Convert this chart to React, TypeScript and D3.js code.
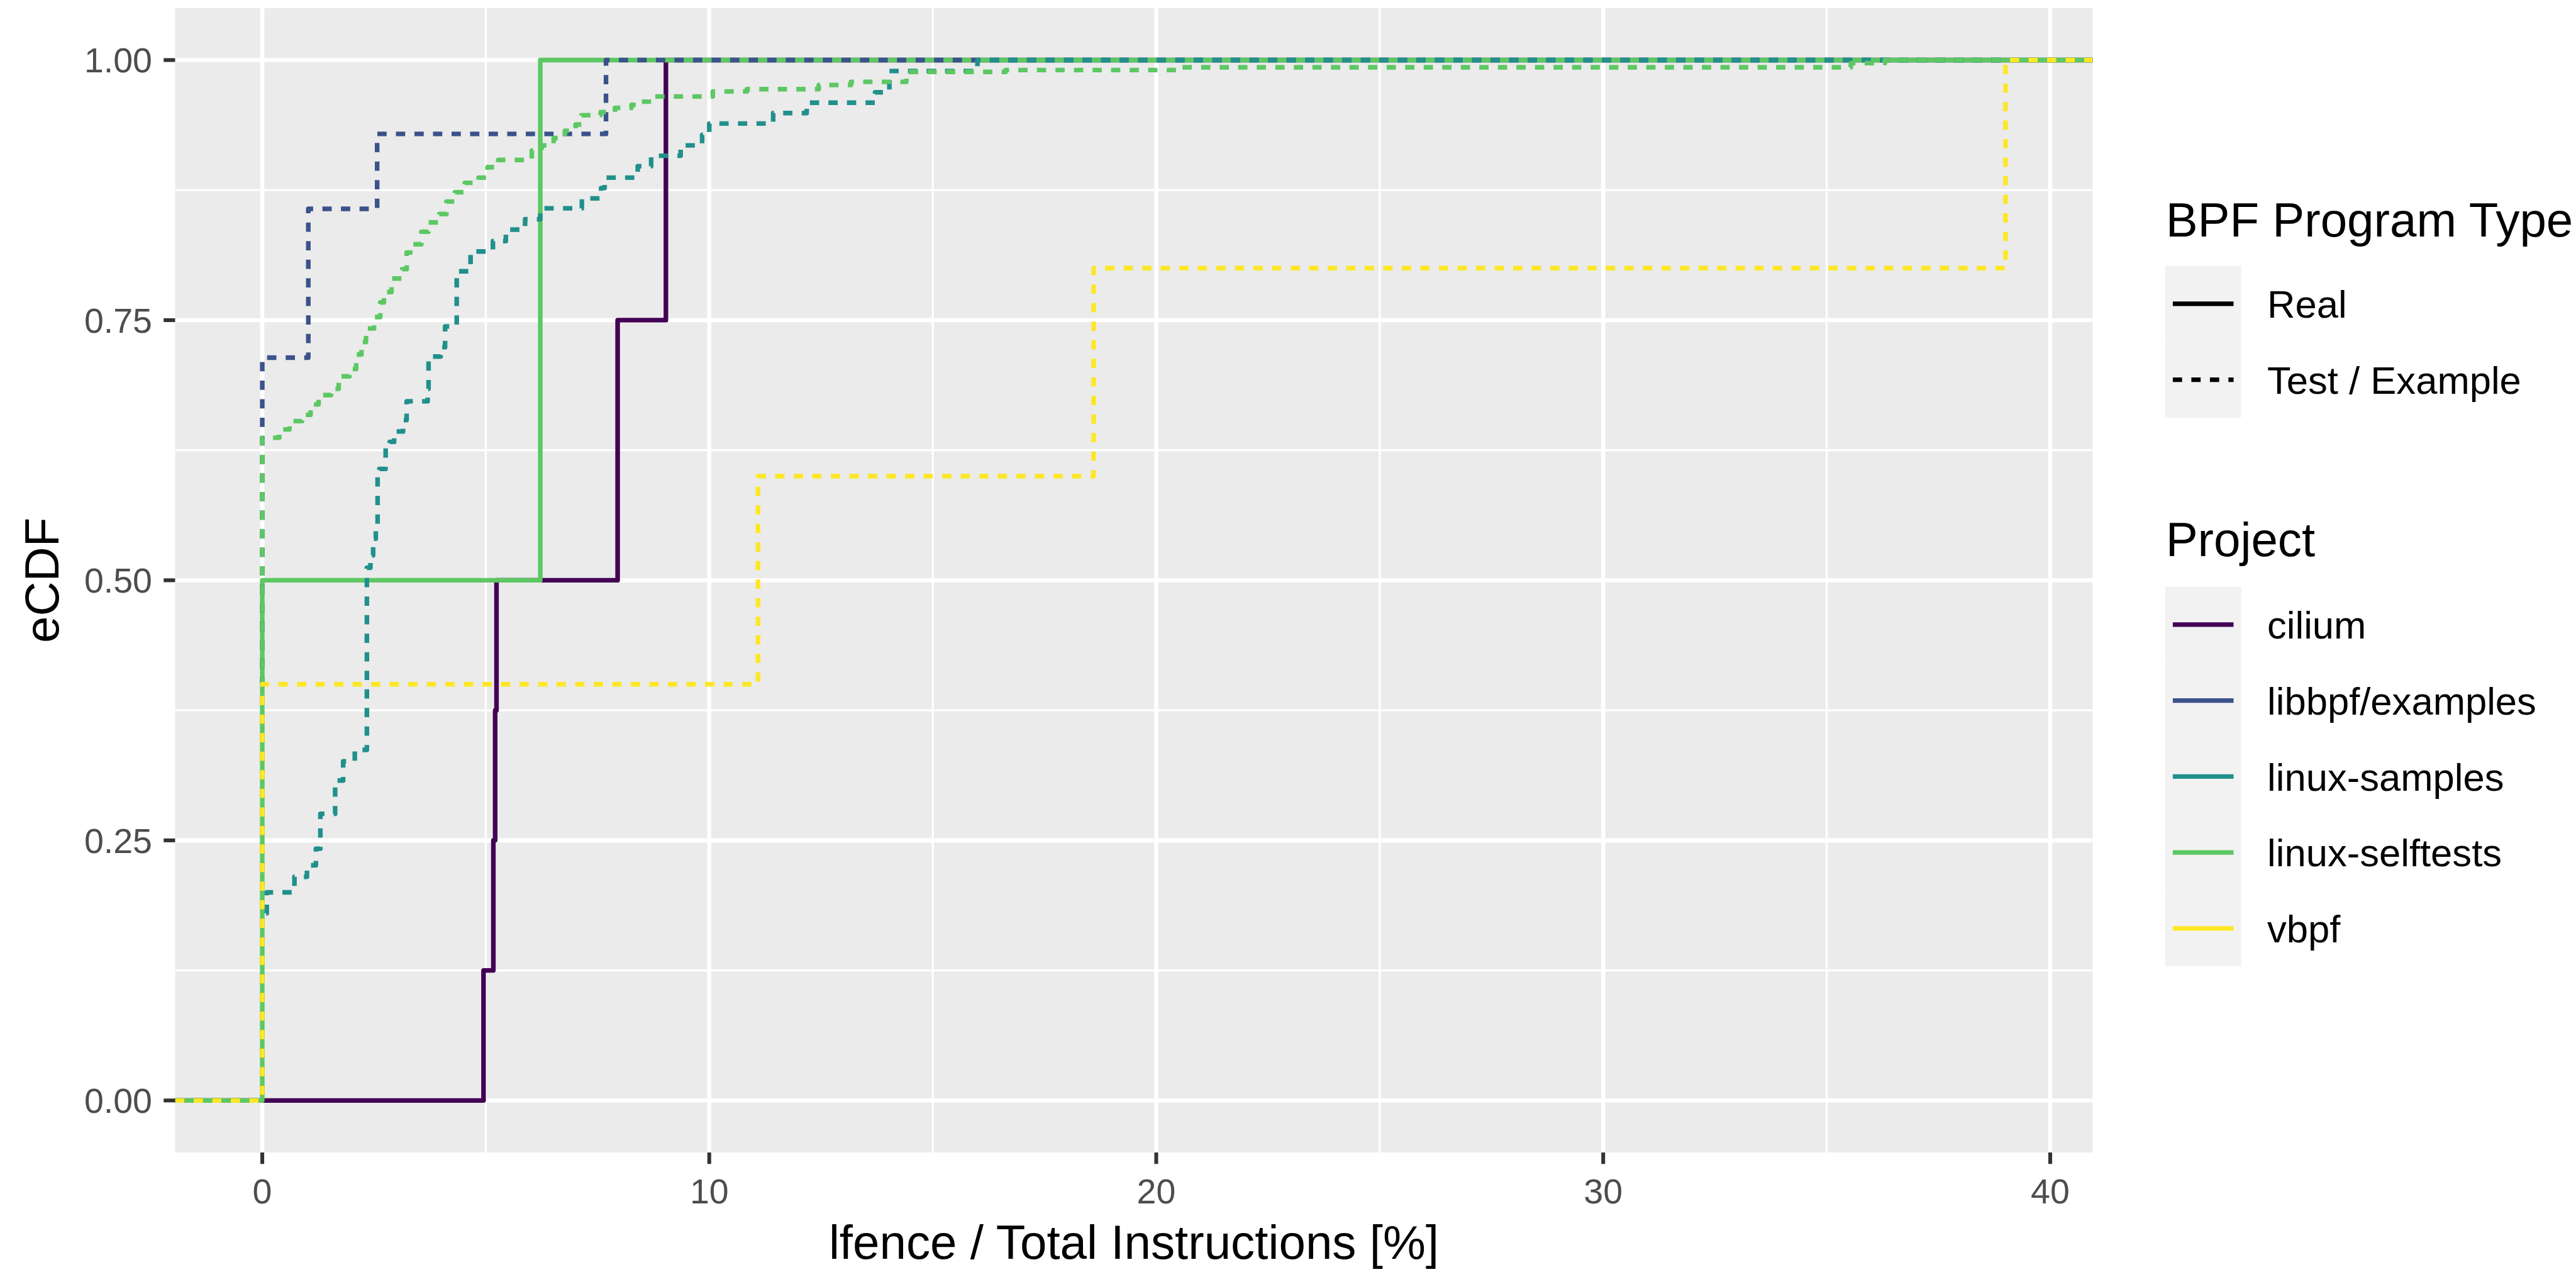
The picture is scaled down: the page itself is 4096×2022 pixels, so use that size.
import React from "react";
import * as d3 from "d3";

// legend entries
const projects = ["cilium", "libbpf/examples", "linux-samples", "linux-selftests", "vbpf"];
const projectColors = ["#440154", "#3B528B", "#21908C", "#5DC863", "#FDE725"];
const programTypes = ["Real", "Test / Example"];

// ecdf steps [x, F(x)]
const ciliumReal = [[4.95, 0.125], [5.17, 0.25], [5.21, 0.375], [5.24, 0.5], [7.95, 0.75], [9.03, 1]];
const selftestsReal = [[0, 0.5], [6.22, 1]];
const libbpfTest = [[0, 0.714], [1.03, 0.857], [2.57, 0.929], [7.69, 1]];
const samplesTest = [
  [0, 0.18], [0.1, 0.2], [0.72, 0.215], [1.0, 0.226], [1.2, 0.242], [1.3, 0.2755],
  [1.63, 0.3075], [1.81, 0.326], [2.07, 0.337], [2.34, 0.512], [2.42, 0.524], [2.48, 0.54],
  [2.54, 0.552], [2.58, 0.603], [2.62, 0.607], [2.76, 0.628], [2.85, 0.633], [2.95, 0.643],
  [3.15, 0.654], [3.23, 0.672], [3.7, 0.684], [3.72, 0.715], [3.99, 0.724], [4.09, 0.744],
  [4.35, 0.797], [4.66, 0.816], [5.16, 0.826], [5.45, 0.837], [5.88, 0.847], [6.22, 0.8575],
  [7.15, 0.867], [7.58, 0.877], [7.66, 0.887], [8.4, 0.898], [8.7, 0.908], [9.36, 0.918],
  [9.84, 0.928], [10.0, 0.939], [11.43, 0.949], [12.18, 0.959], [13.71, 0.969], [14.03, 0.9895],
  [16.0, 1],
];
const selftestsTest = [
  [0, 0.637], [0.38, 0.645], [0.61, 0.653], [0.89, 0.659], [1.08, 0.669], [1.26, 0.678],
  [1.54, 0.684], [1.71, 0.696], [1.95, 0.703], [2.1, 0.717], [2.22, 0.729], [2.32, 0.742],
  [2.5, 0.753], [2.64, 0.767], [2.72, 0.777], [2.89, 0.79], [3.13, 0.799], [3.23, 0.815],
  [3.37, 0.823], [3.56, 0.835], [3.72, 0.844], [3.96, 0.852], [4.12, 0.864], [4.31, 0.873],
  [4.53, 0.882], [4.84, 0.887], [5.04, 0.897], [5.28, 0.904], [6.03, 0.913], [6.25, 0.918],
  [6.52, 0.925], [6.77, 0.932], [7.01, 0.938], [7.14, 0.947], [7.57, 0.95], [7.89, 0.954],
  [8.26, 0.957], [8.45, 0.96], [8.79, 0.965], [10.08, 0.9698], [10.84, 0.972], [12.45, 0.976],
  [13.17, 0.979], [14.41, 0.9886], [16.63, 0.9904], [20.46, 0.993], [35.54, 0.997], [36.3, 1],
];
const vbpfTest = [[0, 0.4], [11.09, 0.6], [18.6, 0.8], [39.0, 1]];

const xTicks = [0, 10, 20, 30, 40];
const xMinor = [5, 15, 25, 35];
const yTicks = [0, 0.25, 0.5, 0.75, 1];
const yMinor = [0.125, 0.375, 0.625, 0.875];

// draw order as ggplot grouped them
const series = [
  { project: 0, type: 0, steps: ciliumReal },
  { project: 3, type: 0, steps: selftestsReal },
  { project: 1, type: 1, steps: libbpfTest },
  { project: 2, type: 1, steps: samplesTest },
  { project: 3, type: 1, steps: selftestsTest },
  { project: 4, type: 1, steps: vbpfTest },
];

const W = 4722;
const H = 2331;
const font = "'Liberation Sans', Arimo, Helvetica, Arial, sans-serif";
const dash = "17 17";
const lineW = 8.5;

export default function App() {
  const allX = series.flatMap(s => s.steps.map(d => d[0]));
  const xMin = d3.min(allX);
  const xMax = d3.max(allX);
  const xPad = (xMax - xMin) * 0.05;

  const x = d3.scaleLinear().domain([xMin - xPad, xMax + xPad]).range([321, 3836]);
  const y = d3.scaleLinear().domain([-0.05, 1.05]).range([2112, 14.7]);
  const [px0, px1] = x.range();
  const [py0, py1] = y.range();

  const line = d3.line()
    .x(d => x(d[0]))
    .y(d => y(d[1]))
    .curve(d3.curveStepAfter);

  const pathFor = steps => {
    const pts = [[xMin - xPad, 0], ...steps, [xMax + xPad, 1]];
    return line(pts);
  };

  const keyX = 3969;
  const keySize = 139.2;
  const typeKeyTop = 487;
  const projKeyTop = 1075;

  return (
    <div style={{ position: "absolute", left: 0, top: 0 }}>
      <svg width={4096} height={2022} viewBox={`0 0 ${W} ${H}`} style={{ display: "block" }}>
        <rect x={0} y={0} width={W} height={H} fill="#FFFFFF" />
        <rect x={px0} y={py1} width={px1 - px0} height={py0 - py1} fill="#EBEBEB" />
        {xMinor.map(v => (
          <line key={"xm" + v} x1={x(v)} x2={x(v)} y1={py1} y2={py0} stroke="#FFFFFF" strokeWidth={3.8} />
        ))}
        {yMinor.map(v => (
          <line key={"ym" + v} x1={px0} x2={px1} y1={y(v)} y2={y(v)} stroke="#FFFFFF" strokeWidth={3.8} />
        ))}
        {xTicks.map(v => (
          <line key={"xg" + v} x1={x(v)} x2={x(v)} y1={py1} y2={py0} stroke="#FFFFFF" strokeWidth={7.6} />
        ))}
        {yTicks.map(v => (
          <line key={"yg" + v} x1={px0} x2={px1} y1={y(v)} y2={y(v)} stroke="#FFFFFF" strokeWidth={7.6} />
        ))}

        <defs>
          <clipPath id="panel">
            <rect x={px0} y={py1} width={px1 - px0} height={py0 - py1} />
          </clipPath>
        </defs>
        <g clipPath="url(#panel)">
          {series.map((s, i) => (
            <path
              key={i}
              d={pathFor(s.steps)}
              fill="none"
              stroke={projectColors[s.project]}
              strokeWidth={lineW}
              strokeDasharray={s.type === 1 ? dash : undefined}
              strokeLinejoin="round"
            />
          ))}
        </g>

        {/* y axis */}
        {yTicks.map(v => (
          <g key={"yt" + v}>
            <line x1={px0 - 21} x2={px0} y1={y(v)} y2={y(v)} stroke="#333333" strokeWidth={7} />
            <text x={279} y={y(v)} dy="0.36em" textAnchor="end" fontFamily={font} fontSize={64} fill="#4D4D4D">
              {d3.format(".2f")(v)}
            </text>
          </g>
        ))}
        {/* x axis */}
        {xTicks.map(v => (
          <g key={"xt" + v}>
            <line x1={x(v)} x2={x(v)} y1={py0} y2={py0 + 21} stroke="#333333" strokeWidth={7} />
            <text x={x(v)} y={2182} dy="0.36em" textAnchor="middle" fontFamily={font} fontSize={64} fill="#4D4D4D">
              {v}
            </text>
          </g>
        ))}
        <text x={(px0 + px1) / 2} y={2307} textAnchor="middle" fontFamily={font} fontSize={88} fill="#000000">
          lfence / Total Instructions [%]
        </text>
        <text
          transform={`translate(107, ${(py0 + py1) / 2}) rotate(-90)`}
          textAnchor="middle"
          fontFamily={font}
          fontSize={88}
          fill="#000000"
        >
          eCDF
        </text>

        {/* legend: program type */}
        <text x={3970} y={433} fontFamily={font} fontSize={88} fill="#000000">BPF Program Type</text>
        {programTypes.map((t, i) => {
          const cy = typeKeyTop + keySize * i + keySize / 2;
          return (
            <g key={t}>
              <rect x={keyX} y={typeKeyTop + keySize * i} width={keySize} height={keySize} fill="#F2F2F2" />
              <line
                x1={keyX + keySize * 0.1}
                x2={keyX + keySize * 0.9}
                y1={cy}
                y2={cy}
                stroke="#000000"
                strokeWidth={lineW}
                strokeDasharray={i === 1 ? dash : undefined}
              />
              <text x={4156} y={cy} dy="0.36em" fontFamily={font} fontSize={71} fill="#000000">{t}</text>
            </g>
          );
        })}

        {/* legend: project */}
        <text x={3970} y={1019} fontFamily={font} fontSize={88} fill="#000000">Project</text>
        {projects.map((p, i) => {
          const cy = projKeyTop + keySize * i + keySize / 2;
          return (
            <g key={p}>
              <rect x={keyX} y={projKeyTop + keySize * i} width={keySize} height={keySize} fill="#F2F2F2" />
              <line
                x1={keyX + keySize * 0.1}
                x2={keyX + keySize * 0.9}
                y1={cy}
                y2={cy}
                stroke={projectColors[i]}
                strokeWidth={lineW}
              />
              <text x={4156} y={cy} dy="0.36em" fontFamily={font} fontSize={71} fill="#000000">{p}</text>
            </g>
          );
        })}
      </svg>
    </div>
  );
}
